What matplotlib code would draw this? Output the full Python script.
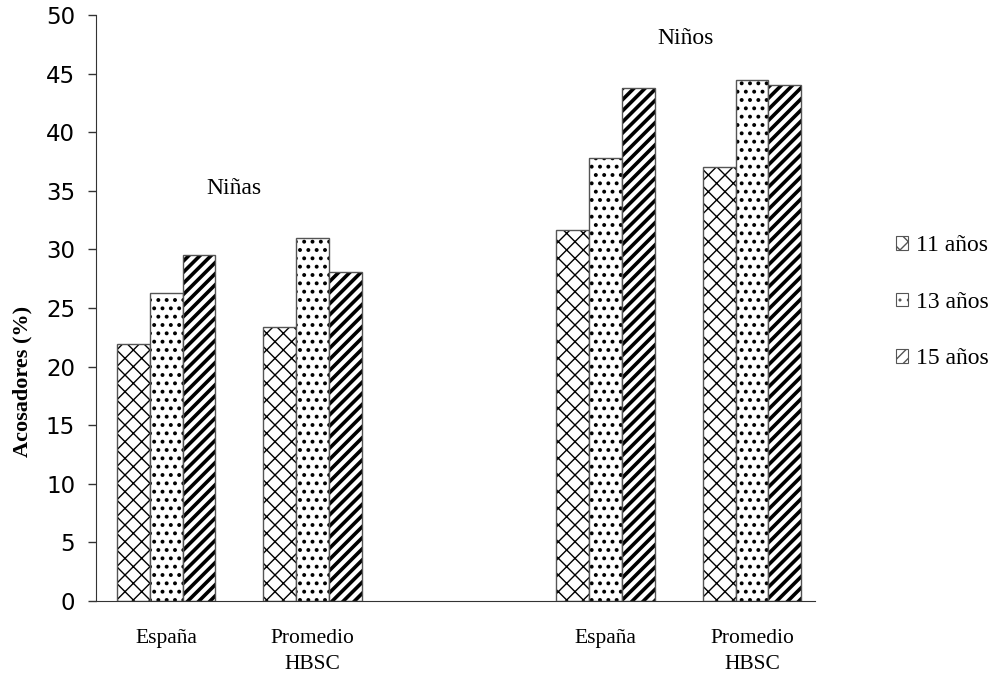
import numpy as np
import matplotlib
matplotlib.use('Agg')
import matplotlib.pyplot as plt

# data
categories = ['España', 'Promedio\nHBSC', 'España', 'Promedio\nHBSC']
cat_pos = [0, 1, 3, 4]   # slot 2 is left empty between girls and boys
age_groups = ['11 años', '13 años', '15 años']
vals_11 = [21.9, 23.4, 31.7, 37.0]
vals_13 = [26.3, 31.0, 37.8, 44.5]
vals_15 = [29.5, 28.1, 43.8, 44.0]
yticks = list(range(0, 55, 5))

serif = 'Liberation Serif'

fig = plt.figure(figsize=(9.94, 6.75), dpi=100)
ax = fig.add_axes([0.0966, 0.1096, 0.7233, 0.868])

x = np.array(cat_pos, dtype=float)
w = 0.225
series = [vals_11, vals_13, vals_15]
hatches = ['xx', '..', '///']
hatch_lw = [1.0, 1.6, 2.6]

for i, (vals, h, hl) in enumerate(zip(series, hatches, hatch_lw)):
    with plt.rc_context({'hatch.linewidth': hl}):
        bars = ax.bar(x + (i - 1) * w, vals, w, color='white', edgecolor='black',
                      hatch=h, linewidth=0, label=age_groups[i])
        for b in bars:
            if hasattr(b, 'set_hatch_linewidth'):
                b.set_hatch_linewidth(hl)
    ax.bar(x + (i - 1) * w, vals, w, fill=False, edgecolor='#555555', linewidth=1.0)

ax.set_xlim(-0.478, 4.43)
ax.set_ylim(0, 50)
ax.set_yticks(yticks)
ax.set_xticks(x)
ax.set_xticklabels(categories, fontfamily=serif, fontsize=15.5, linespacing=1.5)
ax.tick_params(axis='x', length=0, pad=20)
ax.tick_params(axis='y', length=6, width=1, labelsize=16.5, direction='out', pad=9,
               color='#333333')
for s in ['top', 'right']:
    ax.spines[s].set_visible(False)
ax.spines['left'].set_color('#333333')
ax.spines['bottom'].set_color('#333333')

ax.set_ylabel('Acosadores (%)', fontfamily=serif, fontweight='bold', fontsize=16)
ax.yaxis.set_label_coords(-0.088, 0.374)

ax.text(0.46, 35.2, 'Niñas', fontfamily=serif, fontsize=17, ha='center', va='center')
ax.text(3.545, 48.0, 'Niños', fontfamily=serif, fontsize=17, ha='center', va='center')

handles, labels = ax.get_legend_handles_labels()
leg = fig.legend(handles, labels, loc='center left', bbox_to_anchor=(0.880, 0.552),
                 frameon=False, prop={'family': serif, 'size': 17},
                 handlelength=0.5, handleheight=0.5, handletextpad=0.34,
                 labelspacing=1.5)
for p in leg.get_patches():
    p.set_edgecolor('#555555')
    p.set_linewidth(0.8)

fig.savefig('out.png', dpi=100)
